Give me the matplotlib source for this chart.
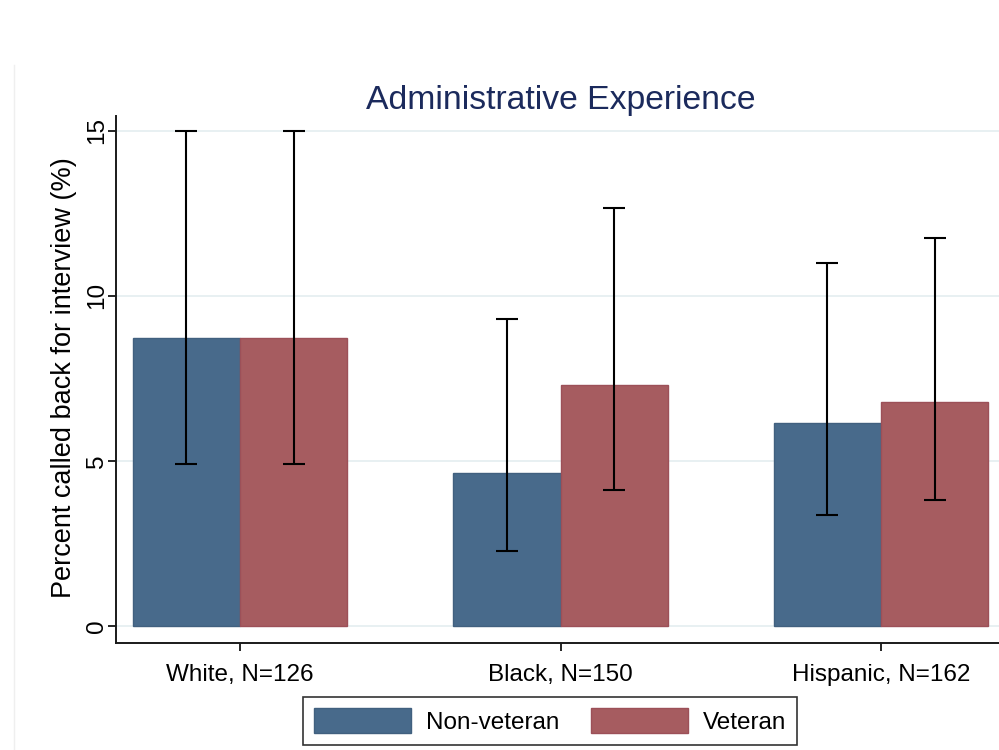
import matplotlib
matplotlib.use('Agg')
import matplotlib.pyplot as plt
import numpy as np
from matplotlib.patches import Patch
from matplotlib.lines import Line2D

plt.rcParams['font.family'] = ['Liberation Sans', 'DejaVu Sans']

# data
groups = ['White, N=126', 'Black, N=150', 'Hispanic, N=162']
nonvet = [8.73, 4.64, 6.15]
vet = [8.73, 7.30, 6.79]
nonvet_lo = [4.91, 2.27, 3.36]
nonvet_hi = [15.0, 9.30, 11.0]
vet_lo = [4.91, 4.12, 3.82]
vet_hi = [15.0, 12.67, 11.76]
yticks = [0, 5, 10, 15]

blue = '#486a8b'
red = '#a65c60'

fig = plt.figure(figsize=(9.99, 7.5), dpi=100)
ax = fig.add_axes([0.1161, 0.1427, 0.89, 0.7026])

x = np.arange(len(groups))
w = 0.335

ax.bar(x - w / 2, nonvet, width=w, color=blue, edgecolor='#41607f', linewidth=1, zorder=2)
ax.bar(x + w / 2, vet, width=w, color=red, edgecolor='#9c5058', linewidth=1, zorder=2)

# error bars (confidence intervals)
nv_err = [np.array(nonvet) - np.array(nonvet_lo), np.array(nonvet_hi) - np.array(nonvet)]
v_err = [np.array(vet) - np.array(vet_lo), np.array(vet_hi) - np.array(vet)]
ax.errorbar(x - w / 2, nonvet, yerr=nv_err, fmt='none', ecolor='black',
            elinewidth=1.5, capsize=8, capthick=1.5, zorder=3)
ax.errorbar(x + w / 2, vet, yerr=v_err, fmt='none', ecolor='black',
            elinewidth=1.5, capsize=8, capthick=1.5, zorder=3)

ax.set_xlim(-0.387, 2.387)
ax.set_ylim(-0.515, 15.45)

ax.set_yticks(yticks)
ax.set_yticklabels([str(t) for t in yticks], rotation=90, va='center', fontsize=17.5)
ax.set_xticks(x)
ax.set_xticklabels(groups, fontsize=17.5)
ax.tick_params(axis='y', length=5.5, width=1.2, pad=0.5)
ax.tick_params(axis='x', length=6, width=1.2, pad=9)
ax.grid(axis='y', color='#e4edf0', linewidth=1.2, zorder=0)
ax.set_axisbelow(True)

for s in ['top', 'right']:
    ax.spines[s].set_visible(False)
for s in ['left', 'bottom']:
    ax.spines[s].set_linewidth(1.4)
    ax.spines[s].set_color('#1a1a1a')

fig.text(0.5611, 1 - 109 / 750, 'Administrative Experience', ha='center', va='baseline',
         fontsize=24.3, color='#1b2a5c')
fig.text(0.0636, 0.497, 'Percent called back for interview (%)', rotation=90,
         ha='center', va='center', fontsize=19.5)

# faint outer frame line on the left
fig.add_artist(Line2D([14 / 999, 14 / 999], [0, 1 - 65 / 750], transform=fig.transFigure,
                      color='#efefef', linewidth=1))

handles = [Patch(facecolor=blue, edgecolor='#41607f'), Patch(facecolor=red, edgecolor='#9c5058')]
leg = fig.legend(handles, ['Non-veteran', 'Veteran'], loc='upper left',
                 bbox_to_anchor=(303 / 999, 1 - 697 / 750), ncol=2, fontsize=17.5,
                 frameon=True, fancybox=False, edgecolor='black', borderpad=0.45,
                 handlelength=4.0, handleheight=1.2, handletextpad=0.6, columnspacing=1.3,
                 borderaxespad=0)
leg.get_frame().set_linewidth(1.2)

fig.savefig('out.png', dpi=100)
